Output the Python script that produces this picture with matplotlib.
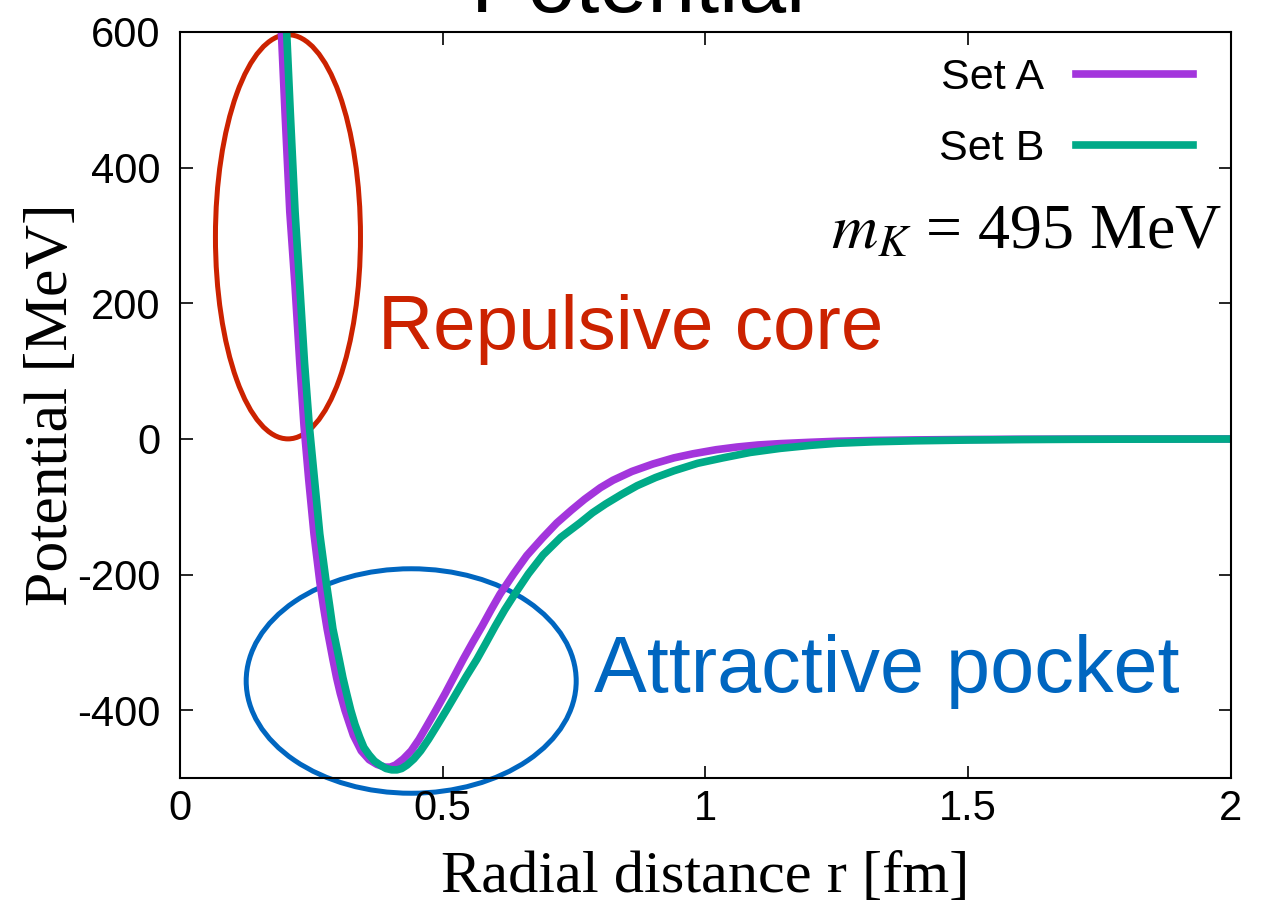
import matplotlib.pyplot as plt
from matplotlib.patches import Ellipse

plt.rcParams['mathtext.fontset'] = 'stix'
plt.rcParams['axes.unicode_minus'] = False

# curves (r in fm, V in MeV)
r_a = [0.193, 0.200, 0.209, 0.219, 0.228, 0.236, 0.245, 0.255, 0.266, 0.273, 0.280, 0.291, 0.298,
       0.305, 0.314, 0.323, 0.330, 0.345, 0.360, 0.375, 0.390, 0.400, 0.410, 0.425, 0.440, 0.455,
       0.470, 0.487, 0.505, 0.522, 0.539, 0.557, 0.575, 0.592, 0.609, 0.635, 0.660, 0.690, 0.717,
       0.745, 0.770, 0.800, 0.824, 0.860, 0.900, 0.940, 0.976, 1.02, 1.06, 1.10, 1.142, 1.20,
       1.25, 1.32, 1.4, 1.5, 1.6, 1.8, 2.0]
v_a = [600, 480, 335, 225, 112, 20, -60, -140, -210, -247, -280, -325, -352,
       -375, -400, -421, -437, -460, -473, -480, -484, -484, -481, -472, -460, -443,
       -423, -400, -375, -350, -325, -300, -276, -252, -229, -199, -172, -146, -124,
       -105, -89, -72, -61, -48, -37, -28, -22, -16, -12, -9, -7, -5,
       -3.5, -2.3, -1.5, -0.9, -0.5, -0.2, -0.1]

r_b = [0.203, 0.210, 0.219, 0.228, 0.237, 0.246, 0.256, 0.266, 0.278, 0.285, 0.291, 0.303, 0.310,
       0.317, 0.325, 0.333, 0.342, 0.350, 0.360, 0.370, 0.381, 0.392, 0.403, 0.413, 0.422, 0.432,
       0.445, 0.458, 0.473, 0.489, 0.507, 0.526, 0.545, 0.565, 0.583, 0.600, 0.618, 0.637, 0.663,
       0.691, 0.725, 0.761, 0.785, 0.810, 0.840, 0.870, 0.905, 0.940, 0.985, 1.033, 1.085, 1.142,
       1.20, 1.25, 1.32, 1.4, 1.5, 1.6, 1.7, 1.8, 2.0]
v_b = [600, 480, 335, 225, 112, 20, -60, -140, -210, -247, -280, -325, -352,
       -375, -400, -421, -440, -455, -466, -475, -481, -486, -488, -488, -486, -481,
       -472, -460, -443, -423, -400, -375, -350, -325, -300, -276, -252, -229, -199,
       -171, -145, -124, -109, -96, -82, -69, -57, -47, -36, -28, -20, -14,
       -9.5, -6.5, -4.3, -2.8, -1.7, -1, -0.6, -0.4, -0.2]

fig = plt.figure(figsize=(12.71, 9.06), dpi=100)
ax = fig.add_axes([0.1416, 0.1413, 0.8269, 0.8234])

ax.plot(r_a, v_a, color='#a335dc', lw=5.5, label='Set A', solid_joinstyle='round')
ax.plot(r_b, v_b, color='#00aa88', lw=5.5, label='Set B', solid_joinstyle='round')

ax.set_xlim(0, 2)
ax.set_ylim(-500, 600)
ax.set_xticks([0, 0.5, 1, 1.5, 2])
ax.set_xticklabels(['0', '0.5', '1', '1.5', '2'])
ax.set_yticks([-400, -200, 0, 200, 400, 600])
ax.tick_params(direction='in', length=9, width=1.2, top=True, right=True, labelsize=30)
ax.tick_params(axis='x', pad=8)
ax.tick_params(axis='y', pad=14)
for lab in ax.get_xticklabels() + ax.get_yticklabels():
    lab.set_family('Liberation Sans')
for s in ax.spines.values():
    s.set_linewidth(1.5)

# annotation ellipses
ax.add_patch(Ellipse((0.2055, 298), 0.276, 596, fill=False, ec='#cc2200', lw=3.6, clip_on=False))
ax.add_patch(Ellipse((0.44, -357), 0.628, 331, fill=False, ec='#0066c0', lw=3.6, clip_on=False))

ax.text(0.377, 162, 'Repulsive core', color='#cc2200', fontsize=55,
        family='Liberation Sans', va='center', ha='left')
ax.text(0.788, -343, 'Attractive pocket', color='#0066c0', fontsize=57,
        family='Liberation Sans', va='center', ha='left')
ax.text(1.983, 303, r'$m_K$ = 495 MeV', fontsize=46, family='Liberation Serif',
        ha='right', va='center')

leg = ax.legend(loc='upper right', frameon=False, markerfirst=False,
                prop={'family': 'Liberation Sans', 'size': 31},
                handlelength=2.7, handletextpad=0.75, labelspacing=0.72,
                borderaxespad=0.2, bbox_to_anchor=(0.988, 1.0))

ax.set_xlabel('Radial distance r [fm]', family='Liberation Serif', fontsize=43.5, labelpad=16)
ax.set_ylabel('Potential [MeV]', family='Liberation Serif', fontsize=44.5, labelpad=-2)

fig.text(0.502, 0.987, 'Potential', fontsize=62, family='Liberation Sans',
         ha='center', va='baseline')

fig.savefig('out.png', dpi=100)
